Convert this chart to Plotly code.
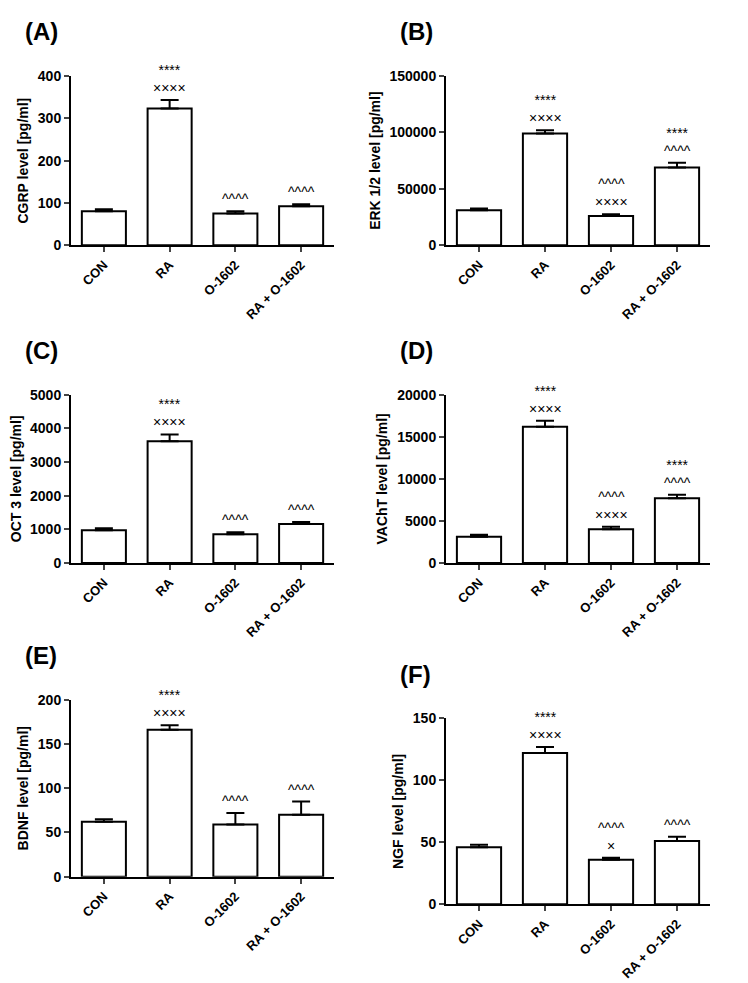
import plotly.graph_objects as go

groups = ["CON", "RA", "O-1602", "RA + O-1602"]

# panel data: letter, y title, means, errors, y max, tick step, labels above bars
letters = ["(A)", "(B)", "(C)", "(D)", "(E)", "(F)"]
ytitles = ["CGRP level [pg/ml]", "ERK 1/2 level [pg/ml]", "OCT 3 level [pg/ml]",
           "VAChT level [pg/ml]", "BDNF level [pg/ml]", "NGF level [pg/ml]"]
means = [
    [80, 323, 75, 92],
    [31000, 99000, 26000, 69000],
    [970, 3620, 850, 1160],
    [3100, 16200, 4000, 7700],
    [62, 166, 59, 70],
    [46, 122, 36, 51],
]
errors = [
    [5, 20, 5, 5],
    [1500, 3000, 1500, 4000],
    [60, 200, 60, 60],
    [250, 700, 300, 400],
    [3, 5, 13, 15],
    [2, 5, 1.5, 3.5],
]
ymax = [400, 150000, 5000, 20000, 200, 150]
dtick = [100, 50000, 1000, 5000, 50, 50]
marks = [
    ["", "****<br>××××", "^^^^", "^^^^"],
    ["", "****<br>××××", "^^^^<br>××××", "****<br>^^^^"],
    ["", "****<br>××××", "^^^^", "^^^^"],
    ["", "****<br>××××", "^^^^<br>××××", "****<br>^^^^"],
    ["", "****<br>××××", "^^^^", "^^^^"],
    ["", "****<br>××××", "^^^^<br>×", "^^^^"],
]

W, H = 748, 983
xdom = [(63, 326), (438, 702)]
ydom = [(61, 233), (61, 233), (385, 556), (385, 556), (695, 875), (714, 903)]

font = "Liberation Sans, Arial, sans-serif"
fig = go.Figure()
annotations = []
layout = {}
for i in range(6):
    n = "" if i == 0 else str(i + 1)
    xa, ya = "x" + n, "y" + n
    fig.add_trace(go.Bar(
        x=groups, y=means[i], xaxis=xa, yaxis=ya, width=0.67,
        marker=dict(color="white", line=dict(color="black", width=2)),
        error_y=dict(type="data", array=errors[i], arrayminus=[0] * 4, symmetric=False,
                     color="black", thickness=2, width=9),
        showlegend=False))
    x0, x1 = xdom[i % 2]
    t, b = ydom[i]
    layout["xaxis" + n] = dict(domain=[x0 / W, x1 / W], anchor=ya, showline=True,
                               linecolor="black", linewidth=2, ticks="outside", ticklen=5,
                               tickwidth=2, tickangle=-45,
                               tickfont=dict(family=font, size=13, color="black", weight="bold"))
    layout["yaxis" + n] = dict(domain=[1 - b / H, 1 - t / H], anchor=xa, range=[0, ymax[i]],
                               dtick=dtick[i], tickformat="d", showline=True, linecolor="black",
                               linewidth=2, ticks="outside", ticklen=5, tickwidth=2,
                               showgrid=False, zeroline=False,
                               title=dict(text=ytitles[i], standoff=6,
                                          font=dict(family=font, size=14, color="black", weight="bold")),
                               tickfont=dict(family=font, size=14, color="black", weight="bold"))
    for j, g in enumerate(groups):
        if marks[i][j]:
            annotations.append(dict(x=g, y=means[i][j] + errors[i][j], xref=xa, yref=ya,
                                    text=marks[i][j], showarrow=False, yanchor="bottom",
                                    yshift=2, font=dict(family=font, size=14, color="black")))
    annotations.append(dict(x=(x0 - 48) / W, y=1 - (t - 45) / H, xref="paper", yref="paper",
                            text=letters[i], showarrow=False, xanchor="left", yanchor="middle",
                            font=dict(family=font, size=24, color="black", weight="bold")))

fig.update_layout(width=W, height=H, margin=dict(l=0, r=0, t=0, b=0),
                  plot_bgcolor="white", paper_bgcolor="white",
                  annotations=annotations, **layout)
fig.write_html("out.html")
